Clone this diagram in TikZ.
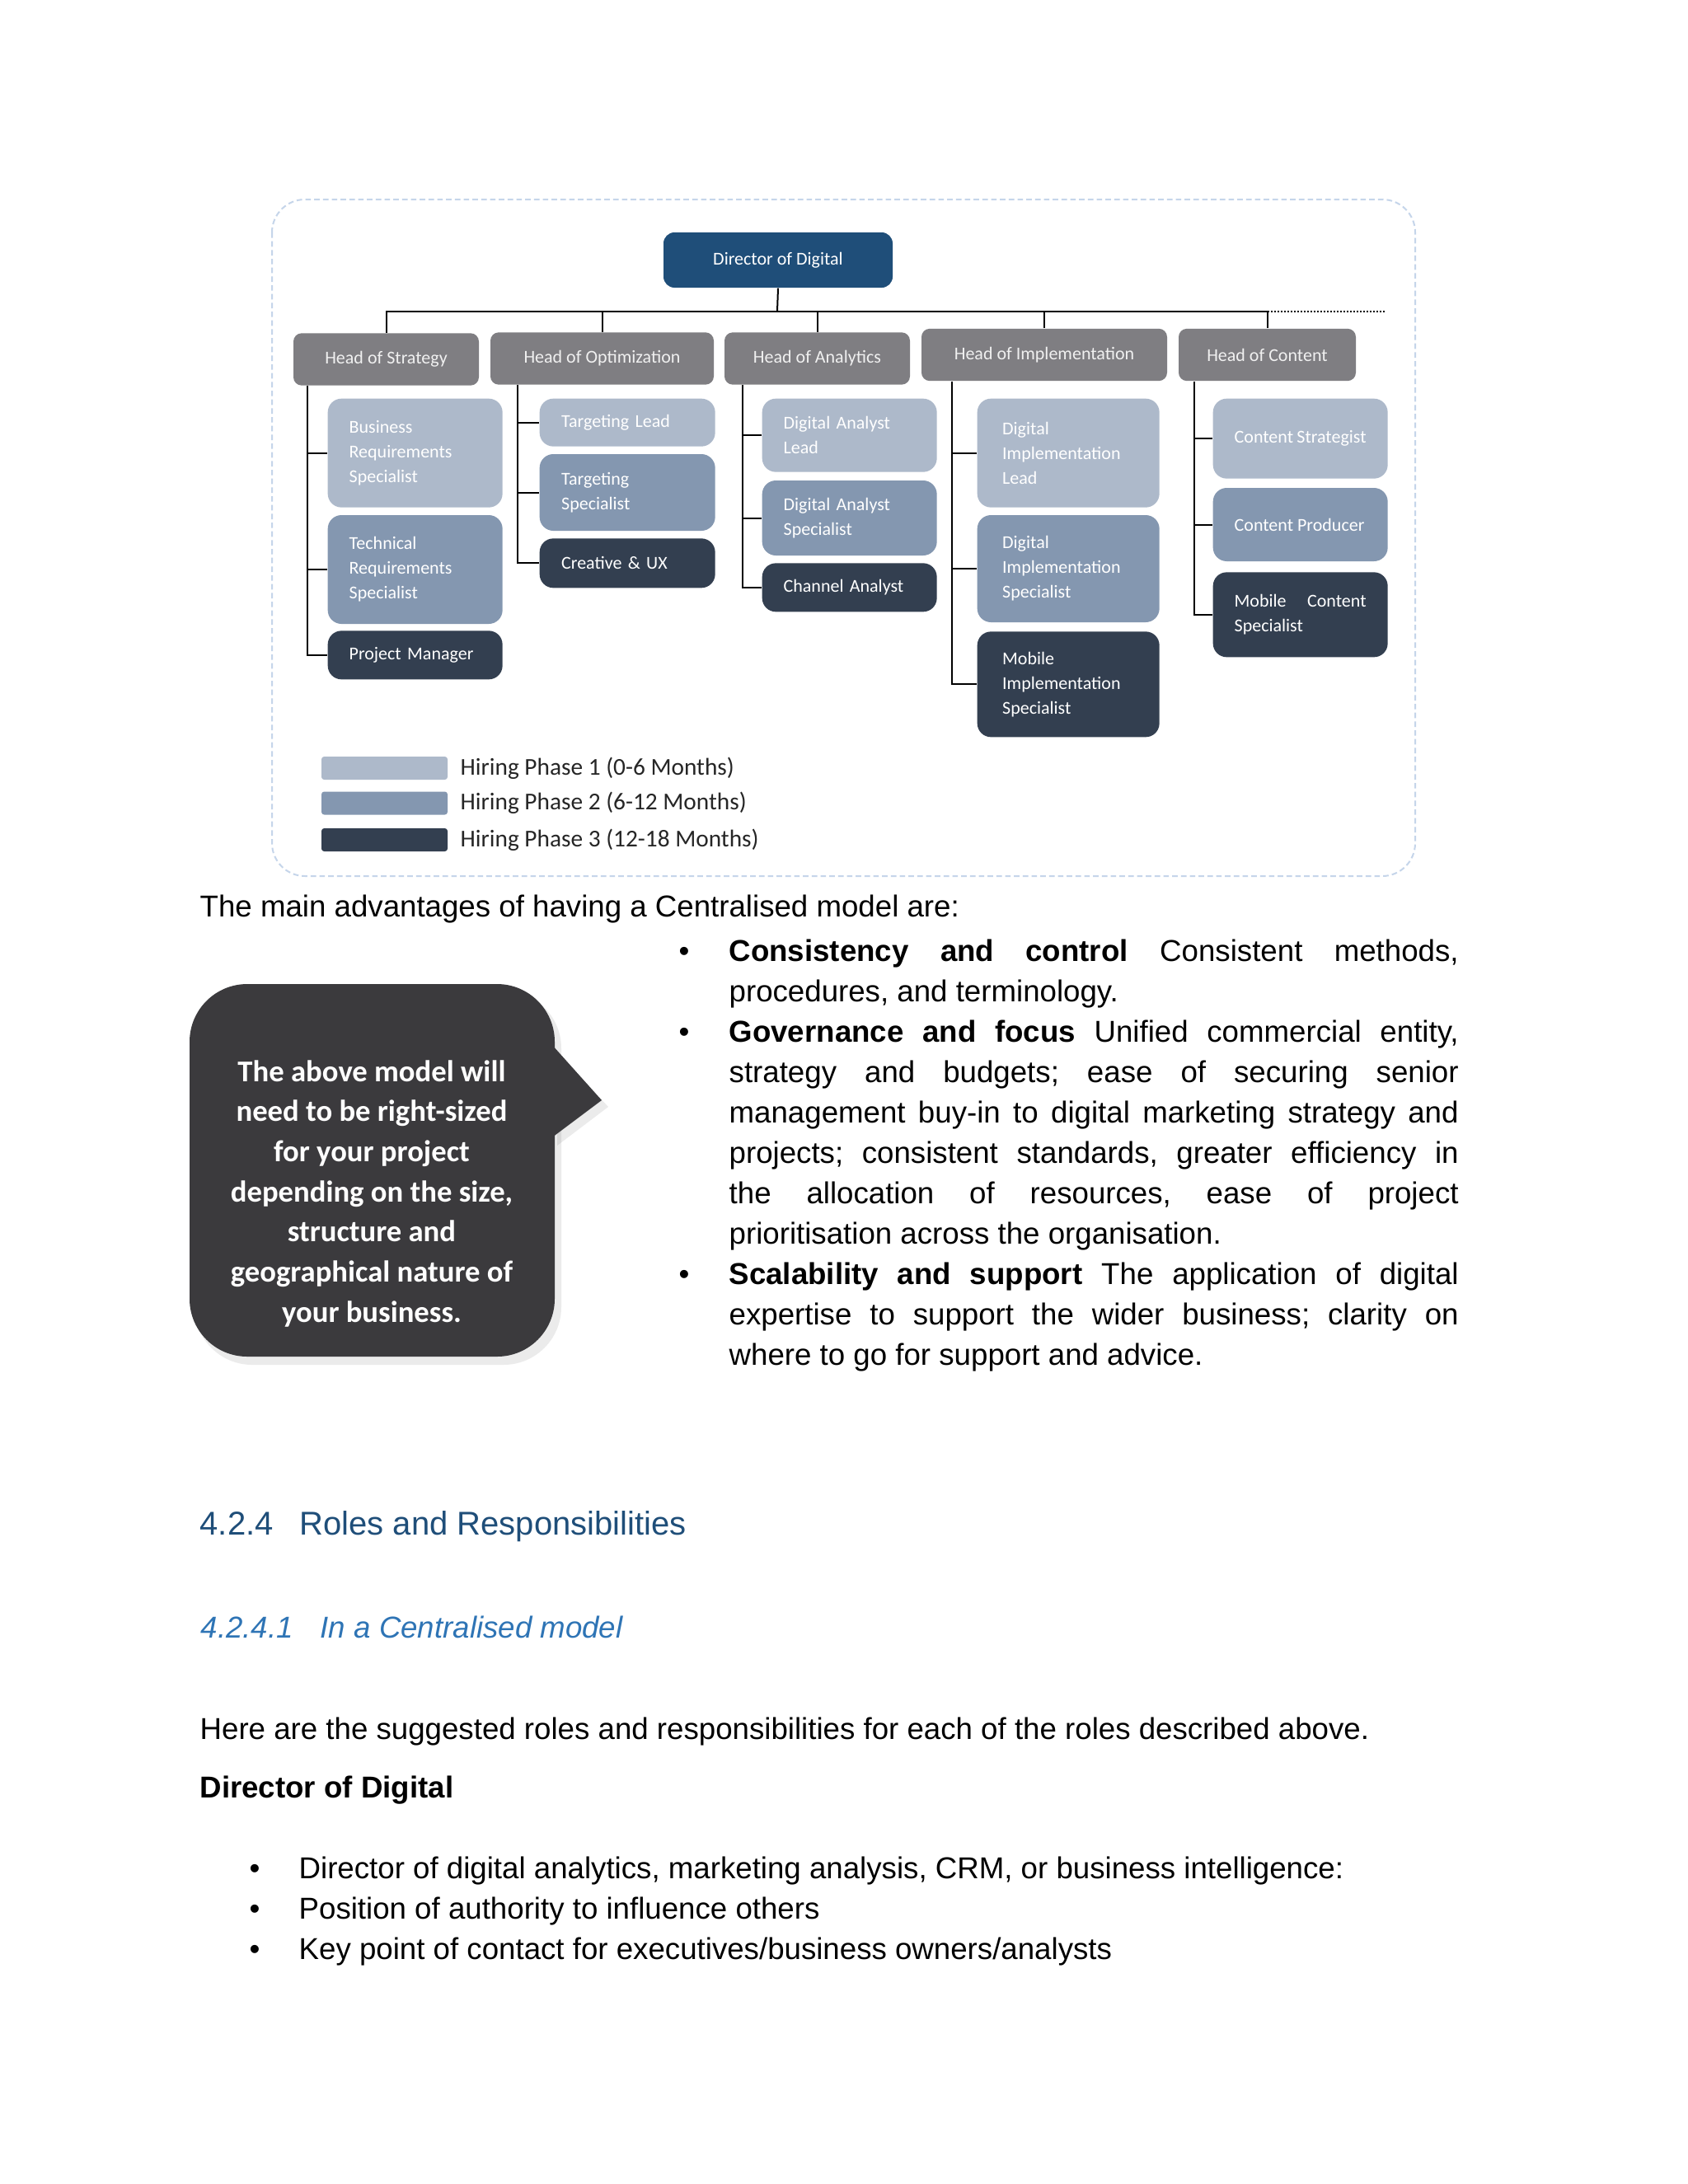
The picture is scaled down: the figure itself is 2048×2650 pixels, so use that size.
\documentclass[tikz,border=0pt]{standalone}
\usepackage{fontspec}
\setmainfont{Liberation Sans}
\newfontfamily\orgfont{Carlito}
\usetikzlibrary{positioning,calc}
\definecolor{dirblue}{HTML}{1F4E79}
\definecolor{headgray}{HTML}{7F7E82}
\definecolor{phaseone}{HTML}{ADB9CA}
\definecolor{phasetwo}{HTML}{8497B0}
\definecolor{phasethree}{HTML}{333F50}
\definecolor{notegray}{HTML}{3B3A3D}
\definecolor{frameblue}{HTML}{C5D5EA}
\definecolor{secblue}{HTML}{1F4E79}
\definecolor{subblue}{HTML}{2E74B5}
\hyphenpenalty=10000
\tolerance=9999
\frenchspacing
\tikzset{orgtext/.style={font=\orgfont\fontsize{6.6}{9}\selectfont},
  topbox/.style={orgtext, fill=dirblue, text=white, rounded corners=4pt,
    minimum width=83.4pt, minimum height=20.1pt},
  headbox/.style={orgtext, fill=headgray, text=white!94!black, rounded corners=3pt,
    minimum height=19pt},
  rolebox/.style={orgtext, text=white, rounded corners=5pt, text width=48pt,
    align=left, inner xsep=7.8pt, inner ysep=1pt, minimum width=63.6pt},
  phaseA/.style={rolebox, fill=phaseone},
  phaseB/.style={rolebox, fill=phasetwo},
  phaseC/.style={rolebox, fill=phasethree},
  orgline/.style={line width=0.6pt},
  keybox/.style={rounded corners=1pt, minimum width=45.9pt, minimum height=8.4pt, inner sep=0pt},
  keytext/.style={font=\orgfont\fontsize{8.8}{10}\selectfont, text=black!85, anchor=west, inner sep=0pt},
  bodytext/.style={font=\fontsize{11}{14.7}\selectfont, inner sep=0pt, anchor=base west},
  bulletmark/.style={font=\fontsize{11}{14.7}\selectfont, inner sep=0pt, anchor=base}}

\begin{document}
\begin{tikzpicture}[x=0.3pt, y=-0.3pt]
  \fill[white] (0,0) rectangle (2048,2650);
  \draw[frameblue, line width=0.6pt, dash pattern=on 2pt off 1.2pt, rounded corners=12pt]
    (330,242) rectangle (1717,1063);

  \node[topbox] (dir) at (944,315.5) {Director of Digital};
  \node[headbox, minimum width=67.5pt] (hstr) at (468.5,436) {Head of Strategy};
  \node[headbox, minimum width=81.3pt] (hopt) at (730.5,435) {Head of Optimization};
  \node[headbox, minimum width=67.5pt] (hana) at (991.5,435) {Head of Analytics};
  \node[headbox, minimum width=89.4pt] (himp) at (1267,430.5) {Head of Implementation};
  \node[headbox, minimum width=64.5pt] (hcon) at (1537.5,430.5) {Head of Content};

  \node[phaseA, anchor=north west, minimum height=39.6pt] (bre) at (397,483) {Business Requirements Specialist};
  \node[phaseB, below=2.4pt of bre, minimum height=39.6pt] (tre) {Technical Requirements Specialist};
  \node[phaseC, below=2.1pt of tre, minimum height=17.7pt] (pm) {Project Manager};

  \node[phaseA, anchor=north west, minimum width=63.9pt, minimum height=17.4pt] (tl) at (654,483) {Targeting Lead};
  \node[phaseB, below=2.4pt of tl, minimum width=63.9pt, minimum height=27.9pt] (ts) {Targeting Specialist};
  \node[phaseC, below=2.4pt of ts, minimum width=63.9pt, minimum height=18pt] (cux) {Creative \& UX};

  \node[phaseA, anchor=north west, minimum width=63.3pt, minimum height=26.7pt] (dal) at (924,483) {Digital Analyst Lead};
  \node[phaseB, below=2.7pt of dal, minimum width=63.3pt, minimum height=27.3pt] (das) {Digital Analyst Specialist};
  \node[phaseC, below=2.4pt of das, minimum width=63.3pt, minimum height=17.7pt] (ca) {Channel Analyst};

  \node[phaseA, anchor=north west, minimum width=66.3pt, minimum height=39.6pt] (dil) at (1185,483) {Digital Implementation Lead};
  \node[phaseB, below=2.4pt of dil, minimum width=66.3pt, minimum height=39pt] (dis) {Digital Implementation Specialist};
  \node[phaseC, below=3pt of dis, minimum width=66.3pt, minimum height=38.4pt] (mis) {Mobile Implementation Specialist};

  \node[phaseA, anchor=north west, minimum height=29.1pt, align=justify] (cs) at (1471,483) {Content Strategist};
  \node[phaseB, below=3pt of cs, minimum height=26.7pt, align=justify] (cp) {Content Producer};
  \node[phaseC, below=3.6pt of cp, minimum height=30.9pt, align=justify] (mcs) {Mobile Content Specialist};

  \coordinate (bar) at (943,378);
  \draw[orgline] (dir.south) -- (bar);
  \foreach \h in {hstr,hopt,hana,himp,hcon}
    \draw[orgline] (\h.north) |- (bar);
  \draw[orgline, dash pattern=on 0.6pt off 0.6pt] (hcon.north |- bar) -- ++(143,0);

  \coordinate (tstr) at ($(hstr.south west)+(18,0)$);
  \coordinate (topt) at ($(hopt.south west)+(34,0)$);
  \coordinate (tana) at ($(hana.south west)+(23,0)$);
  \coordinate (timp) at ($(himp.south west)+(38,0)$);
  \coordinate (tcon) at ($(hcon.south west)+(20,0)$);
  \draw[orgline] (tstr) |- (pm.west);
  \draw[orgline] (topt) |- (cux.west);
  \draw[orgline] (tana) |- (ca.west);
  \draw[orgline] (timp) |- (mis.west);
  \draw[orgline] (tcon) |- (mcs.west);
  \foreach \t/\c in {tstr/bre,tstr/tre,topt/tl,topt/ts,tana/dal,tana/das,timp/dil,timp/dis,tcon/cs,tcon/cp}
    \draw[orgline] (\t |- \c.west) -- (\c.west);

  \node[keybox, fill=phaseone] (k1) at (466.5,932) {};
  \node[keybox, fill=phasetwo] (k2) at (466.5,974.5) {};
  \node[keybox, fill=phasethree] (k3) at (466.5,1019) {};
  \node[keytext] (k1t) at (558,932) {Hiring Phase 1 (0-6 Months)};
  \node[keytext] (k2t) at (558,974.5) {Hiring Phase 2 (6-12 Months)};
  \node[keytext] (k3t) at (558,1019) {Hiring Phase 3 (12-18 Months)};

  \node[bodytext] (intro) at (242,1112) {The main advantages of having a Centralised model are:};
  \node[bulletmark] (m1) at (830,1166) {\textbullet};
  \node[bulletmark] (m2) at (830,1264) {\textbullet};
  \node[bulletmark] (m3) at (830,1558) {\textbullet};
  \node[bodytext, text width=265.5pt, align=justify] (adv1) at (884,1166)
    {\textbf{Consistency and control} Consistent methods,\linebreak procedures, and terminology.};
  \node[bodytext, text width=265.5pt, align=justify] (adv2) at (884,1264)
    {\textbf{Governance and focus} Unified commercial entity,\linebreak strategy and budgets; ease of securing senior\linebreak management buy-in to digital marketing strategy and\linebreak projects; consistent standards, greater efficiency in\linebreak the allocation of resources, ease of project\linebreak prioritisation across the organisation.};
  \node[bodytext, text width=265.5pt, align=justify] (adv3) at (884,1558)
    {\textbf{Scalability and support} The application of digital\linebreak expertise to support the wider business; clarity on\linebreak where to go for support and advice.};

  \fill[black, opacity=0.08, rounded corners=21pt] (236,1202) rectangle (681,1656);
  \fill[black, opacity=0.08] (676,1276) -- (738,1343) -- (676,1390) -- cycle;
  \fill[notegray, rounded corners=21pt] (230,1194) rectangle (673,1646);
  \fill[notegray] (670,1268) -- (730,1335) -- (670,1380) -- cycle;
  \node[font=\orgfont\bfseries\fontsize{11}{14.6}\selectfont, text=white, align=center] (notetext) at (451,1448)
    {The above model will\\need to be right-sized\\for your project\\depending on the size,\\structure and\\geographical nature of\\your business.};

  \node[bodytext, font=\fontsize{12}{14}\selectfont, text=secblue] (sec) at (242,1862)
    {\makebox[36.3pt][l]{4.2.4}Roles and Responsibilities};
  \node[bodytext, font=\fontsize{11}{14}\selectfont\itshape, text=subblue] (subsec) at (243,1987)
    {\makebox[43.5pt][l]{4.2.4.1}In a Centralised model};
  \node[bodytext] (lead) at (242,2110) {Here are the suggested roles and responsibilities for each of the roles described above.};
  \node[bodytext, font=\fontsize{11}{14.7}\selectfont\bfseries] (role) at (242,2181) {Director of Digital};
  \node[bulletmark] (r1m) at (309,2279) {\textbullet};
  \node[bulletmark] (r2m) at (309,2328) {\textbullet};
  \node[bulletmark] (r3m) at (309,2377) {\textbullet};
  \node[bodytext] (r1) at (362,2279) {Director of digital analytics, marketing analysis, CRM, or business intelligence:};
  \node[bodytext] (r2) at (362,2328) {Position of authority to influence others};
  \node[bodytext] (r3) at (362,2377) {Key point of contact for executives/business owners/analysts};
\end{tikzpicture}
\end{document}
